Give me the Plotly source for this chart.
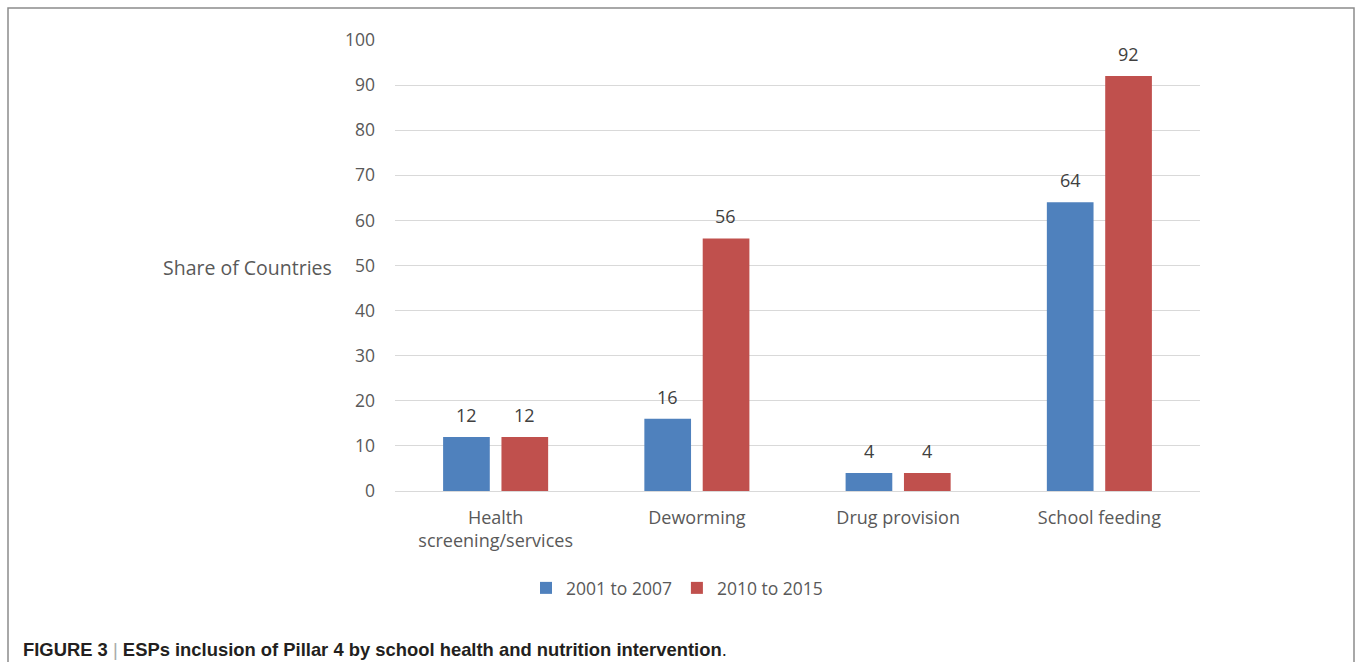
import plotly.graph_objects as go

categories = ["Health<br>screening/services", "Deworming", "Drug provision", "School feeding"]
series_names = ["2001 to 2007", "2010 to 2015"]
values_2001_2007 = [12, 16, 4, 64]
values_2010_2015 = [12, 56, 4, 92]
y_ticks = list(range(0, 101, 10))

colors = ["#4F81BD", "#C0504D"]
W, H = 1356, 662
L, R, T, B = 395, 156, 40, 171
pw, ph = W - L - R, H - T - B

def px(x):
    return (x - L) / pw

def py(y):
    return (H - B - y) / ph

fig = go.Figure()
for name, vals, col in zip(series_names, [values_2001_2007, values_2010_2015], colors):
    fig.add_trace(go.Bar(
        x=categories, y=vals, name=name, marker_color=col, marker_line_width=0,
    ))

# data labels above bars
annotations = []
for vals, shift in zip([values_2001_2007, values_2010_2015], [-29, 29]):
    for c, v in zip(categories, vals):
        annotations.append(dict(
            x=c, y=v, xref="x", yref="y", text=str(v), showarrow=False,
            xanchor="center", yanchor="bottom", xshift=shift, yshift=8,
            font=dict(family="Open Sans", size=18, color="#404040"),
        ))

annotations += [
    dict(text="Share of Countries", xref="paper", yref="paper", x=px(334), y=py(267),
         xanchor="right", yanchor="middle", showarrow=False,
         font=dict(family="Open Sans", size=19.5, color="#595959")),
    dict(text="<b>FIGURE 3</b> <span style='color:#aaa'>|</span> <b>ESPs inclusion of Pillar 4 by school health and nutrition intervention</b>.",
         xref="paper", yref="paper", x=px(21), y=py(649), xanchor="left", yanchor="middle",
         showarrow=False, font=dict(family="Liberation Sans", size=18.4, color="#231F20")),
]

fig.update_layout(
    width=W, height=H, margin=dict(l=L, r=R, t=T, b=B),
    paper_bgcolor="white", plot_bgcolor="white",
    barmode="group", bargap=0.42, bargroupgap=0.2,
    font=dict(family="Open Sans", size=17, color="#595959"),
    showlegend=True,
    legend=dict(orientation="h", x=px(677), y=py(588), xanchor="center", yanchor="middle",
                font=dict(size=17.5, color="#595959"), itemwidth=30, traceorder="normal"),
    xaxis=dict(showgrid=False, showline=False, ticks="", ticklabelstandoff=14,
               tickfont=dict(size=18, color="#595959")),
    yaxis=dict(range=[0, 100], tickvals=y_ticks, showgrid=True, gridcolor="#D9D9D9", gridwidth=1,
               zeroline=True, zerolinecolor="#D9D9D9", zerolinewidth=1, showline=False,
               ticks="", ticklabelstandoff=19, tickfont=dict(size=17.5, color="#595959")),
    shapes=[dict(type="path", xref="paper", yref="paper",
                 path=f"M {px(8)},{py(680)} L {px(8)},{py(8)} L {px(1354)},{py(8)} L {px(1354)},{py(680)}",
                 line=dict(color="#8C8C8C", width=1.5))],
    annotations=annotations,
)

fig.write_html("out.html")
